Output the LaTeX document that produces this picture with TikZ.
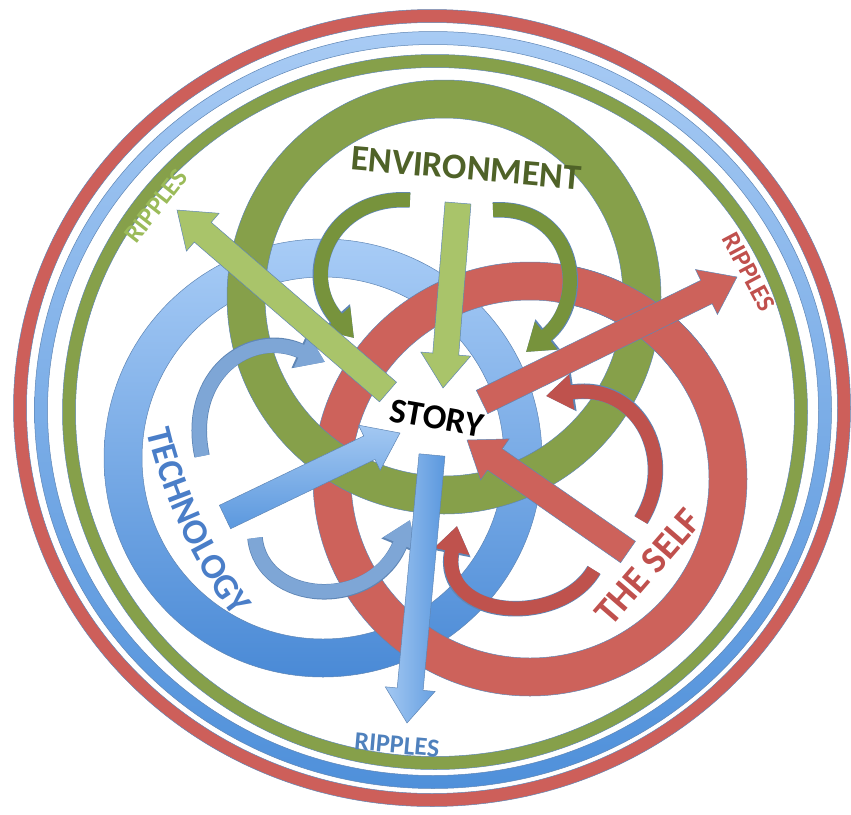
\documentclass[tikz,border=0pt]{standalone}
\usepackage{fontspec}
\setmainfont{Carlito}
\usetikzlibrary{arrows.meta,calc,decorations.text}

\definecolor{edge}{HTML}{5F86B5}
\definecolor{rimred}{HTML}{CD5F5A}
\definecolor{rimgreen}{HTML}{86A04A}
\definecolor{rimbluetop}{HTML}{A8CBF4}
\definecolor{rimbluebot}{HTML}{4F90DA}
\definecolor{envgreen}{HTML}{86A04A}
\definecolor{selfred}{HTML}{CD625B}
\definecolor{techtop}{HTML}{A8CCF6}
\definecolor{techbot}{HTML}{4A8AD6}
\definecolor{lightgreen}{HTML}{A9C46A}
\definecolor{darkgreen}{HTML}{77933C}
\definecolor{swirlblue}{HTML}{7EA6D6}
\definecolor{swirlred}{HTML}{BF524D}
\definecolor{arrbluetop}{HTML}{A3C8F2}
\definecolor{arrbluebot}{HTML}{5B98DE}
\definecolor{envtext}{HTML}{4F6228}
\definecolor{techtext}{HTML}{4A7EC8}
\definecolor{selftext}{HTML}{C0504D}
\definecolor{ripgreen}{HTML}{9BBB59}
\definecolor{ripblue}{HTML}{4F81BD}

% straight block arrow from #2 to #3, drawn with the options #1
\newcommand{\blockarrow}[3]{%
  \path[#1] let \p1=($(#3)-(#2)$), \n1={atan2(\y1,\x1)}, \n2={veclen(\x1,\y1)} in
    [shift={(#2)}, rotate=\n1] (0,-13) -- ({\n2-34},-13) -- ({\n2-34},-25)
    -- (\n2,0) -- ({\n2-34},25) -- ({\n2-34},13) -- (0,13) -- cycle;}

% piece of a thick ring laid back on top, for the weave
\newcommand{\ringpatch}[4]{%
  \fill[#4] ($(#1)+(#2:217)$) arc[start angle=#2, end angle=#3, radius=217]
    -- ($(#1)+(#3:179)$) arc[start angle=#3, end angle=#2, radius=179] -- cycle;
  \draw[edge, line width=0.5pt] ($(#1)+(#2:217)$) arc[start angle=#2, end angle=#3, radius=217];
  \draw[edge, line width=0.5pt] ($(#1)+(#2:179)$) arc[start angle=#2, end angle=#3, radius=179];}

\begin{document}
\begin{tikzpicture}[x=1pt, y=-1pt,
    ring/.style={draw=edge, line width=0.5pt, even odd rule},
    block/.style={draw=edge, line width=0.5pt, fill=#1},
    swirl/.style={draw=#1, line width=14pt, -{Triangle[width=34pt,length=26pt]},
      preaction={draw=edge, line width=15.5pt, -{Triangle[width=37pt,length=28pt]}}},
    bigtext/.style={font=\bfseries\fontsize{#1}{#1}\selectfont, inner sep=0pt}]
  \useasboundingbox (0,0) rectangle (851,814);

  % three outer rims
  \coordinate (rim) at (433,410);
  \filldraw[ring, fill=rimred] (432,408) ellipse[x radius=418.5, y radius=398.5]
    (432,408) ellipse[x radius=405.5, y radius=385.5];
  \path[ring, top color=rimbluetop, bottom color=rimbluebot] (rim) ellipse[x radius=398.5, y radius=378.5]
    (rim) ellipse[x radius=385.5, y radius=365.5];
  \filldraw[ring, fill=rimgreen] (435,412) ellipse[x radius=372.5, y radius=357.5]
    (435,412) ellipse[x radius=359.5, y radius=344.5];

  % the three big rings
  \coordinate (env) at (444,297);
  \coordinate (tech) at (323,458);
  \coordinate (self) at (530,479);
  \path[ring, top color=techtop, bottom color=techbot] (tech) circle[radius=219] (tech) circle[radius=181];
  \filldraw[ring, fill=selfred] (self) circle[radius=217] (self) circle[radius=179];
  \filldraw[ring, fill=envgreen] (env) circle[radius=217] (env) circle[radius=179];
  \ringpatch{self}{-82}{-35}{selfred}

  % curved arrows
  \draw[swirl=darkgreen] (410,200) .. controls (330,195) and (298,275) .. (354,338);
  \draw[swirl=darkgreen] (493,210) .. controls (575,205) and (590,300) .. (526,352);
  \draw[swirl=swirlblue] (202,456) .. controls (185,375) and (250,328) .. (325,362);
  \draw[swirl=swirlblue] (255,538) .. controls (262,605) and (372,612) .. (410,520);
  \draw[swirl=swirlred] (641,520) .. controls (678,460) and (640,382) .. (546,396);
  \draw[swirl=swirlred] (594,570) .. controls (560,628) and (438,620) .. (457,526);

  % straight arrows into and out of the story
  \coordinate (gr-a) at (388,392); \coordinate (gr-b) at (177,210);
  \coordinate (gi-a) at (458,203); \coordinate (gi-b) at (443,388);
  \coordinate (rr-a) at (482,402); \coordinate (rr-b) at (737,277);
  \coordinate (ri-a) at (628,552); \coordinate (ri-b) at (467,440);
  \coordinate (bi-a) at (225,517); \coordinate (bi-b) at (400,433);
  \coordinate (br-a) at (432,455); \coordinate (br-b) at (407,723);
  \blockarrow{block=lightgreen}{gr-a}{gr-b}
  \blockarrow{block=lightgreen}{gi-a}{gi-b}
  \blockarrow{block=selfred}{rr-a}{rr-b}
  \blockarrow{block=selfred}{ri-a}{ri-b}
  \blockarrow{draw=edge, line width=0.5pt, top color=arrbluetop, bottom color=arrbluebot}{bi-a}{bi-b}
  \blockarrow{draw=edge, line width=0.5pt, left color=arrbluetop, right color=arrbluebot}{br-a}{br-b}

  % labels
  \node[bigtext=35, rotate=-10] (story) at (437,418) {STORY};
  \node[bigtext=36, rotate=-5, text=envtext] (envlabel) at (466,168) {ENVIRONMENT};
  \node[bigtext=38, rotate=49, text=selftext] (selflabel) at (648,567) {THE SELF};
  \path[decorate, decoration={text along path, text align=center,
      text={|\bfseries\fontsize{36}{36}\selectfont\color{techtext}|TECHNOLOGY}}]
    (141,398) .. controls (150,470) and (195,583) .. (257,642);
  \node[bigtext=26, rotate=52, text=ripgreen] (ripg) at (156,206) {RIPPLES};
  \node[bigtext=26, rotate=-62, text=selftext] (ripr) at (749,272) {RIPPLES};
  \node[bigtext=26, rotate=-5, text=ripblue] (ripb) at (397,745) {RIPPLES};
\end{tikzpicture}
\end{document}
